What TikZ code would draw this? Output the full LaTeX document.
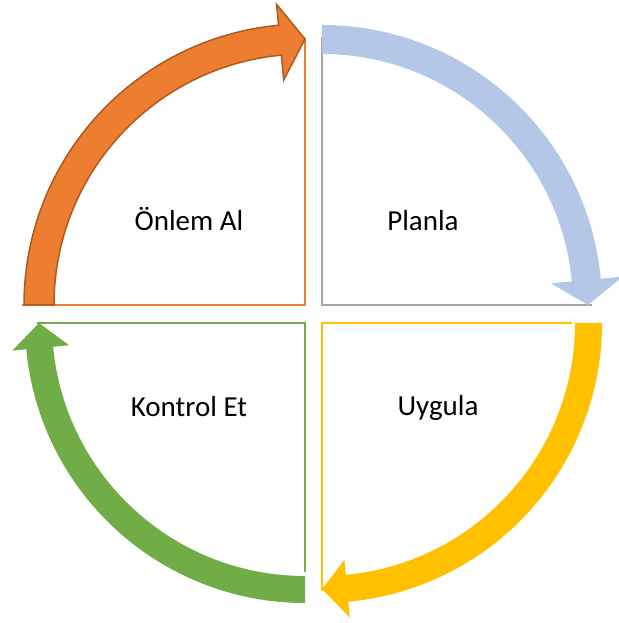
\documentclass[tikz,border=0pt]{standalone}
\usepackage{fontspec}
\setmainfont{Carlito}
\definecolor{orgfill}{HTML}{ED7D31}
\definecolor{orgline}{HTML}{AE5A21}
\definecolor{bluefill}{HTML}{B4C7E7}
\definecolor{yelfill}{HTML}{FFC000}
\definecolor{grnfill}{HTML}{70AD47}
\definecolor{grayline}{HTML}{A5A5A5}
\tikzset{
  framestyle/.style={line width=2pt, line join=miter},
  lbl/.style={font=\fontsize{29}{34}\selectfont, anchor=base, inner sep=0pt},
}
% generic curved arrow: shaft from 180 to 95.4 deg, head pointing to 90 deg
\newcommand{\cyclearrow}[4]{% #1 outer, #2 inner, #3 head inner, #4 head outer
  (180:#2) -- (180:#1) arc[start angle=180, end angle=95.4, radius=#1]
  -- (95.4:#4) -- (90:266) -- (95.4:#3) -- (95.4:#2)
  arc[start angle=95.4, end angle=180, radius=#2] -- cycle}
\begin{document}
\begin{tikzpicture}[x=1pt,y=1pt]
\useasboundingbox (0,0) rectangle (618,623);
% quadrant frames
\draw[framestyle, orgfill] (22,318) -- (305,318) -- (305,585);
\draw[framestyle, grayline] (322,586) -- (322,318) -- (592,318);
\draw[framestyle, yelfill] (572,300) -- (322,300) -- (322,32);
\draw[framestyle, grnfill] (37,300) -- (305,300) -- (305,51);
% arrows
\begin{scope}[shift={(305,318)}]
  \filldraw[fill=orgfill, draw=orgline, line width=1.5pt, line join=miter] \cyclearrow{281}{251}{226}{302};
\end{scope}
\begin{scope}[shift={(322,318)}, rotate=-90]
  \fill[bluefill] \cyclearrow{280}{251}{230}{302};
\end{scope}
\begin{scope}[shift={(322,300)}, rotate=-180]
  \fill[yelfill] \cyclearrow{280}{253}{238}{296};
\end{scope}
\begin{scope}[shift={(305,300)}, rotate=90]
  \fill[grnfill] \cyclearrow{280}{253}{237}{294};
\end{scope}
% labels
\node[lbl] (onlem) at (189,392) {Önlem Al};
\node[lbl] (planla) at (423,392) {Planla};
\node[lbl] (kontrol) at (189,206) {Kontrol Et};
\node[lbl] (uygula) at (438,207) {Uygula};
\end{tikzpicture}
\end{document}
